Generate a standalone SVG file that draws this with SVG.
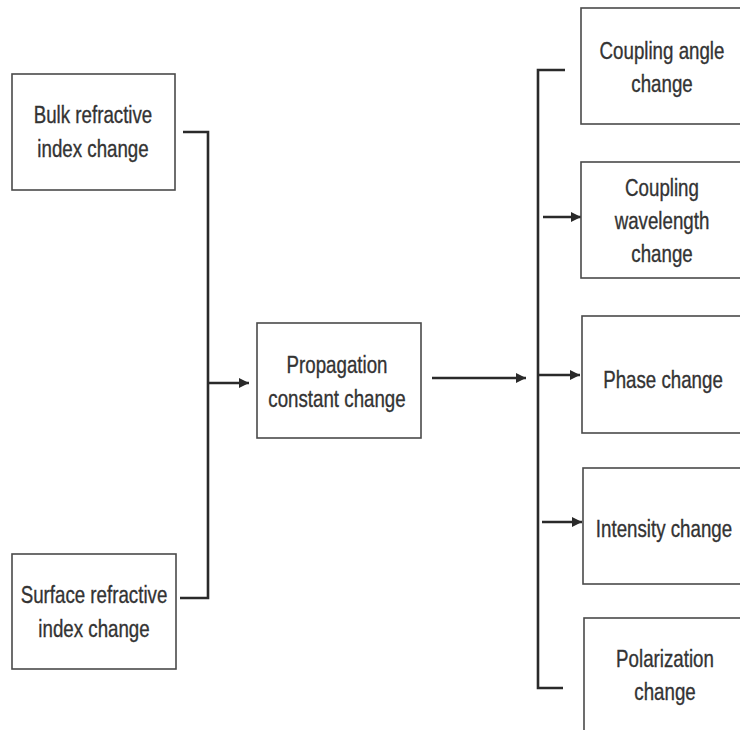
<svg xmlns="http://www.w3.org/2000/svg" width="740" height="730" viewBox="0 0 740 730">
<defs>
<style>
.box{fill:#fff;stroke:#4a4a4a;stroke-width:1.6}
.t{font-family:"Liberation Sans Narrow","Liberation Sans",Arial,sans-serif;font-size:24px;fill:#333;stroke:#333;stroke-width:0.35;text-anchor:middle}
.c{fill:none;stroke:#2a2a2a;stroke-width:2.6}
</style>
<marker id="ah" markerUnits="userSpaceOnUse" markerWidth="11" markerHeight="11" refX="10" refY="5.5" orient="auto">
<path d="M0,0.5 L10,5.5 L0,10.5 Z" fill="#2a2a2a"/>
</marker>
</defs>
<rect width="740" height="730" fill="#fff"/>
<g id="connectors">
<path class="c" d="M183,132 H208 V598 H180"/>
<path class="c" d="M209,383 H249" marker-end="url(#ah)"/>
<path class="c" d="M432,378 H526" marker-end="url(#ah)"/>
<path class="c" d="M565,70 H538 V688 H563"/>
<path class="c" d="M543,217 H581" marker-end="url(#ah)"/>
<path class="c" d="M539,375 H580" marker-end="url(#ah)"/>
<path class="c" d="M542,522 H582" marker-end="url(#ah)"/>
</g>
<g id="bulk">
<rect class="box" x="12" y="74" width="163" height="116"/>
<text class="t" transform="translate(93,123) scale(0.78,1)">Bulk refractive</text>
<text class="t" transform="translate(93,157) scale(0.78,1)">index change</text>
</g>
<g id="surface">
<rect class="box" x="12" y="554" width="164" height="115"/>
<text class="t" transform="translate(94,603) scale(0.78,1)">Surface refractive</text>
<text class="t" transform="translate(94,637) scale(0.78,1)">index change</text>
</g>
<g id="propagation">
<rect class="box" x="257" y="323" width="164" height="115"/>
<text class="t" transform="translate(337,373) scale(0.78,1)">Propagation</text>
<text class="t" transform="translate(337,407) scale(0.78,1)">constant change</text>
</g>
<g id="coupling-angle">
<rect class="box" x="581" y="8" width="162" height="116"/>
<text class="t" transform="translate(662,59) scale(0.78,1)">Coupling angle</text>
<text class="t" transform="translate(662,92) scale(0.78,1)">change</text>
</g>
<g id="coupling-wavelength">
<rect class="box" x="581" y="162" width="162" height="116"/>
<text class="t" transform="translate(662,196) scale(0.78,1)">Coupling</text>
<text class="t" transform="translate(662,229) scale(0.78,1)">wavelength</text>
<text class="t" transform="translate(662,262) scale(0.78,1)">change</text>
</g>
<g id="phase">
<rect class="box" x="582" y="316" width="162" height="117"/>
<text class="t" transform="translate(663,388) scale(0.78,1)">Phase change</text>
</g>
<g id="intensity">
<rect class="box" x="583" y="468" width="162" height="116"/>
<text class="t" transform="translate(664,537) scale(0.78,1)">Intensity change</text>
</g>
<g id="polarization">
<rect class="box" x="584" y="618" width="162" height="120"/>
<text class="t" transform="translate(665,667) scale(0.78,1)">Polarization</text>
<text class="t" transform="translate(665,700) scale(0.78,1)">change</text>
</g>
</svg>
